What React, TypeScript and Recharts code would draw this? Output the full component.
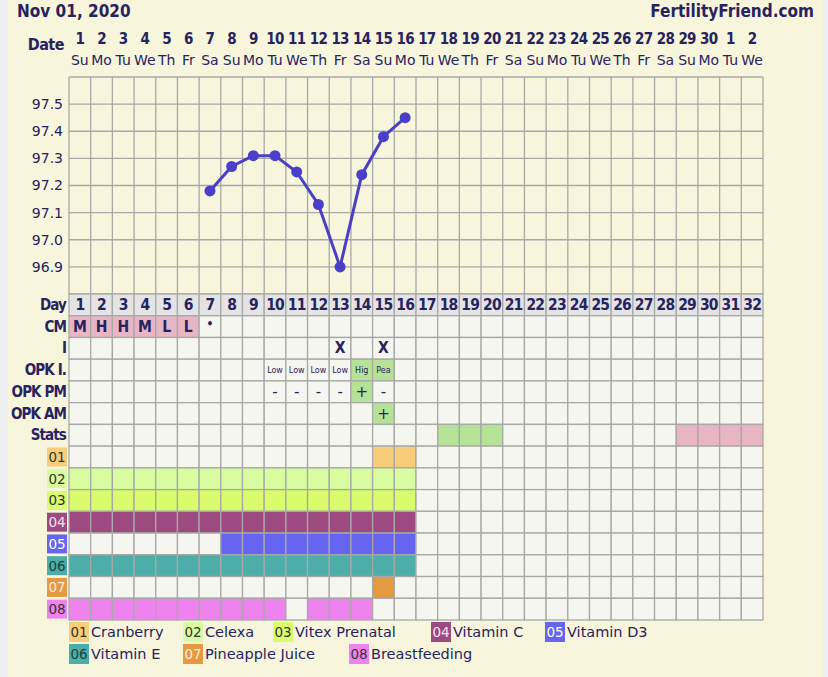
import React from "react";
import {
  LineChart,
  Line,
  XAxis,
  YAxis,
  CartesianGrid,
  ScatterChart,
  Scatter,
} from "recharts";

// Colours
const INK = "#27235f";
const GRID = "#a8a8a8";
const CREAM = "#f7f5dc";
const EMPTY = "#f6f6f0";
const DAY_BG = "#e4e4e4";
const LINE = "#4b3fc9";
const PINK = "#e8b5c5";
const GREEN = "#b5e296";

const BOLD = "'DejaVu Sans Condensed', 'DejaVu Sans', sans-serif";
const REG = "'DejaVu Sans', Verdana, sans-serif";

// Layout
const W = 828;
const PLOT_LEFT = 69;
const PLOT_RIGHT = 65;
const PLOT_W = W - PLOT_LEFT - PLOT_RIGHT;
const CELL_W = PLOT_W / 32;
const TABLE_H = 326;
const CELL_H = TABLE_H / 15;

// Data
const cycleDays = [1, 2, 3, 4, 5, 6, 7, 8, 9, 10, 11, 12, 13, 14, 15, 16, 17, 18, 19, 20, 21, 22, 23, 24, 25, 26, 27, 28, 29, 30, 31, 32];
const calendarDates = [1, 2, 3, 4, 5, 6, 7, 8, 9, 10, 11, 12, 13, 14, 15, 16, 17, 18, 19, 20, 21, 22, 23, 24, 25, 26, 27, 28, 29, 30, 1, 2];
const weekdays = [
  "Su", "Mo", "Tu", "We", "Th", "Fr", "Sa",
  "Su", "Mo", "Tu", "We", "Th", "Fr", "Sa",
  "Su", "Mo", "Tu", "We", "Th", "Fr", "Sa",
  "Su", "Mo", "Tu", "We", "Th", "Fr", "Sa",
  "Su", "Mo", "Tu", "We",
];

const tempDays = [7, 8, 9, 10, 11, 12, 13, 14, 15, 16];
const temps = [97.18, 97.27, 97.31, 97.31, 97.25, 97.13, 96.9, 97.24, 97.38, 97.45];
const tempTicks = [96.8, 96.9, 97.0, 97.1, 97.2, 97.3, 97.4, 97.5, 97.6];

const cmDays = [1, 2, 3, 4, 5, 6, 7];
const cmValues = ["M", "H", "H", "M", "L", "L", "•"];
const intercourseDays = [13, 15];
const opkIDays = [10, 11, 12, 13, 14, 15];
const opkIValues = ["Low", "Low", "Low", "Low", "Hig", "Pea"];
const opkIPositive = [14, 15];
const opkPmDays = [10, 11, 12, 13, 14, 15];
const opkPmValues = ["-", "-", "-", "-", "+", "-"];
const opkPmPositive = [14];
const opkAmDays = [15];
const opkAmValues = ["+"];
const opkAmPositive = [15];
const statsGreenDays = [18, 19, 20];
const statsPinkDays = [29, 30, 31, 32];

const rowNames = ["Day", "CM", "I", "OPK I.", "OPK PM", "OPK AM", "Stats"];
const medCodes = ["01", "02", "03", "04", "05", "06", "07", "08"];
const medNames = ["Cranberry", "Celexa", "Vitex Prenatal", "Vitamin C", "Vitamin D3", "Vitamin E", "Pineapple Juice", "Breastfeeding"];
const medColors = ["#f7cd7a", "#d9fca0", "#d8fc6c", "#9d4a80", "#6565f2", "#4dada8", "#e59a42", "#ee82ee"];
const medTextColors = ["#333", "#333", "#333", "#f3e3f0", "#ffffff", "#1e3f3d", "#fbe9dc", "#333"];
const medDays = [
  [15, 16],
  [1, 2, 3, 4, 5, 6, 7, 8, 9, 10, 11, 12, 13, 14, 15, 16],
  [1, 2, 3, 4, 5, 6, 7, 8, 9, 10, 11, 12, 13, 14, 15, 16],
  [1, 2, 3, 4, 5, 6, 7, 8, 9, 10, 11, 12, 13, 14, 15, 16],
  [8, 9, 10, 11, 12, 13, 14, 15, 16],
  [1, 2, 3, 4, 5, 6, 7, 8, 9, 10, 11, 12, 13, 14, 15, 16],
  [15],
  [1, 2, 3, 4, 5, 6, 7, 8, 9, 10, 12, 13, 14],
];

// legend slot offsets (layout only)
const legendRows = [[0, 1, 2, 3, 4], [5, 6, 7]];
const legendX = [0, 114, 204, 362, 476, 0, 114, 280];

const tempData = cycleDays.map((d) => {
  const i = tempDays.indexOf(d);
  return { day: d, temp: i >= 0 ? temps[i] : null };
});
const boundaries = cycleDays.map((d) => d - 0.5).concat(32.5);

type CellDatum = { x: number; y: number; fill: string; text: string; kind: string };

function buildCells(): CellDatum[] {
  const out: CellDatum[] = [];
  const rowCount = rowNames.length + medCodes.length;
  for (let r = 0; r < rowCount; r++) {
    cycleDays.forEach((d) => {
      let fill = EMPTY;
      let text = "";
      let kind = "";
      if (r === 0) {
        fill = DAY_BG;
        text = String(d);
        kind = "day";
      } else if (r === 1) {
        const i = cmDays.indexOf(d);
        if (i >= 0) {
          text = cmValues[i];
          fill = text === "•" ? EMPTY : PINK;
          kind = "cm";
        }
      } else if (r === 2) {
        if (intercourseDays.includes(d)) {
          text = "X";
          kind = "i";
        }
      } else if (r === 3) {
        const i = opkIDays.indexOf(d);
        if (i >= 0) {
          text = opkIValues[i];
          kind = "small";
          if (opkIPositive.includes(d)) fill = GREEN;
        }
      } else if (r === 4) {
        const i = opkPmDays.indexOf(d);
        if (i >= 0) {
          text = opkPmValues[i];
          kind = "sign";
          if (opkPmPositive.includes(d)) fill = GREEN;
        }
      } else if (r === 5) {
        const i = opkAmDays.indexOf(d);
        if (i >= 0) {
          text = opkAmValues[i];
          kind = "sign";
          if (opkAmPositive.includes(d)) fill = GREEN;
        }
      } else if (r === 6) {
        if (statsGreenDays.includes(d)) fill = GREEN;
        if (statsPinkDays.includes(d)) fill = PINK;
      } else {
        const m = r - 7;
        if (medDays[m].includes(d)) fill = medColors[m];
      }
      out.push({ x: d, y: r + 0.5, fill, text, kind });
    });
  }
  return out;
}

const cells = buildCells();
const rowTicks = [...rowNames, ...medCodes].map((_, i) => i + 0.5);

function DateTick({ x, y, payload }: any) {
  const i = payload.value - 1;
  return (
    <g>
      <text x={x} y={y - 38} textAnchor="middle" dominantBaseline="central" fontFamily={BOLD} fontWeight="bold" fontSize={15} letterSpacing={-0.7} fill={INK}>
        {calendarDates[i]}
      </text>
      <text x={x} y={y - 17} textAnchor="middle" dominantBaseline="central" fontFamily={REG} fontSize={14} fill={INK}>
        {weekdays[i]}
      </text>
    </g>
  );
}

function RowTick({ x, y, payload, side }: any) {
  const r = Math.round(payload.value - 0.5);
  const left = side === "left";
  if (r < rowNames.length) {
    return (
      <text x={left ? x - 1 : x + 3} y={y} textAnchor={left ? "end" : "start"} dominantBaseline="central" fontFamily={BOLD} fontWeight="bold" fontSize={15} letterSpacing={-0.9} fill={INK}>
        {rowNames[r]}
      </text>
    );
  }
  const m = r - rowNames.length;
  const bw = left ? 20 : 18;
  const bx = left ? x - bw : x;
  return (
    <g>
      <rect x={bx} y={y - 9.5} width={bw} height={19} fill={medColors[m]} />
      <text x={bx + bw / 2} y={y} textAnchor="middle" dominantBaseline="central" fontFamily={REG} fontSize={13.5} fill={medTextColors[m]}>
        {medCodes[m]}
      </text>
    </g>
  );
}

function CellShape(props: any) {
  const { cx, cy, payload } = props;
  const p = payload as CellDatum;
  let font = { family: BOLD, weight: "bold", size: 15.5, dy: 0, ls: 0 };
  if (p.kind === "day") font = { family: BOLD, weight: "bold", size: 15.5, dy: 0, ls: -0.8 };
  if (p.kind === "small") font = { family: REG, weight: "normal", size: 8, dy: 0, ls: 0 };
  if (p.kind === "sign") font = { family: REG, weight: "normal", size: 15, dy: 0, ls: 0 };
  if (p.text === "•") font = { family: BOLD, weight: "bold", size: 12, dy: -3, ls: 0 };
  return (
    <g>
      <rect x={cx - CELL_W / 2} y={cy - CELL_H / 2} width={CELL_W} height={CELL_H} fill={p.fill} stroke={GRID} strokeWidth={1.3} />
      {p.text ? (
        <text x={cx} y={cy + font.dy} textAnchor="middle" dominantBaseline="central" fontFamily={font.family} fontWeight={font.weight} fontSize={font.size} letterSpacing={font.ls} fill={INK}>
          {p.text}
        </text>
      ) : null}
    </g>
  );
}

export default function App() {
  const tempFmt = (v: number) => (v === 96.8 || v === 97.6 ? "" : v.toFixed(1));
  return (
    <div style={{ position: "absolute", left: 0, top: 0, width: W, height: 677, background: "#efefef", overflow: "hidden" }}>
      <div style={{ position: "absolute", left: 8, top: 0, width: 815, height: 677, background: CREAM }} />
      <div style={{ position: "absolute", left: 17, top: 1, fontFamily: BOLD, fontWeight: "bold", fontSize: 17, lineHeight: "20px", color: INK }}>
        Nov 01, 2020
      </div>
      <div style={{ position: "absolute", right: 14, top: 1, fontFamily: BOLD, fontWeight: "bold", fontSize: 17, lineHeight: "20px", color: INK }}>
        FertilityFriend.com
      </div>

      <div style={{ position: "absolute", left: 0, top: 0 }}>
        <LineChart width={W} height={300} data={tempData} margin={{ top: 7, right: 0, bottom: 6, left: 0 }}>
          <CartesianGrid xAxisId="grid" yAxisId="l" stroke={GRID} strokeWidth={1.3} />
          <XAxis xAxisId="grid" dataKey="day" type="number" domain={[0.5, 32.5]} ticks={boundaries} interval={0} hide />
          <XAxis
            xAxisId="top"
            orientation="top"
            dataKey="day"
            type="number"
            domain={[0.5, 32.5]}
            ticks={cycleDays}
            interval={0}
            height={70}
            tickSize={0}
            tickMargin={0}
            axisLine={false}
            tickLine={false}
            tick={<DateTick />}
            label={{ value: "Date", position: "left", offset: 5, fill: INK, fontFamily: BOLD, fontWeight: "bold", fontSize: 16, letterSpacing: -0.5, dy: 2 }}
          />
          <YAxis
            yAxisId="l"
            type="number"
            domain={[96.8, 97.6]}
            ticks={tempTicks}
            interval={0}
            width={PLOT_LEFT}
            tickSize={0}
            tickMargin={6}
            axisLine={false}
            tickLine={false}
            tickFormatter={tempFmt}
            tick={{ fill: INK, fontFamily: REG, fontSize: 14 }}
          />
          <YAxis
            yAxisId="r"
            orientation="right"
            type="number"
            domain={[96.8, 97.6]}
            ticks={tempTicks}
            interval={0}
            width={PLOT_RIGHT}
            tickSize={0}
            tickMargin={5}
            axisLine={false}
            tickLine={false}
            tickFormatter={tempFmt}
            tick={{ fill: INK, fontFamily: REG, fontSize: 14, textAnchor: "start" }}
          />
          <Line
            xAxisId="grid"
            yAxisId="l"
            type="linear"
            dataKey="temp"
            stroke={LINE}
            strokeWidth={3}
            dot={{ r: 5.5, fill: LINE, stroke: LINE, strokeWidth: 0 }}
            activeDot={false}
            connectNulls={false}
            isAnimationActive={false}
          />
        </LineChart>
      </div>

      <div style={{ position: "absolute", left: 0, top: 292 }}>
        <ScatterChart width={W} height={TABLE_H + 4} margin={{ top: 2, right: 0, bottom: 2, left: 0 }}>
          <XAxis xAxisId="x" dataKey="x" type="number" domain={[0.5, 32.5]} hide />
          <YAxis
            yAxisId="l"
            dataKey="y"
            type="number"
            domain={[0, 15]}
            reversed
            ticks={rowTicks}
            interval={0}
            width={PLOT_LEFT}
            tickSize={0}
            tickMargin={2}
            axisLine={false}
            tickLine={false}
            tick={<RowTick side="left" />}
          />
          <YAxis
            yAxisId="r"
            orientation="right"
            dataKey="y"
            type="number"
            domain={[0, 15]}
            reversed
            ticks={rowTicks}
            interval={0}
            width={PLOT_RIGHT}
            tickSize={0}
            tickMargin={2}
            axisLine={false}
            tickLine={false}
            tick={<RowTick side="right" />}
          />
          <Scatter xAxisId="x" yAxisId="l" data={cells} shape={<CellShape />} isAnimationActive={false} />
        </ScatterChart>
      </div>

      {legendRows.map((row, ri) => (
        <div key={ri} style={{ position: "absolute", left: PLOT_LEFT, top: 622 + ri * 21.5, height: 20 }}>
          {row.map((m) => (
            <div key={m} style={{ position: "absolute", left: legendX[m], top: 0, display: "flex", alignItems: "center", whiteSpace: "nowrap" }}>
              <span style={{ display: "inline-block", width: 20, height: 20, lineHeight: "20px", textAlign: "center", background: medColors[m], color: medTextColors[m], fontFamily: REG, fontSize: 13.5 }}>
                {medCodes[m]}
              </span>
              <span style={{ marginLeft: 2, fontFamily: REG, fontSize: 14.5, color: INK, lineHeight: "20px" }}>{medNames[m]}</span>
            </div>
          ))}
        </div>
      ))}
    </div>
  );
}
